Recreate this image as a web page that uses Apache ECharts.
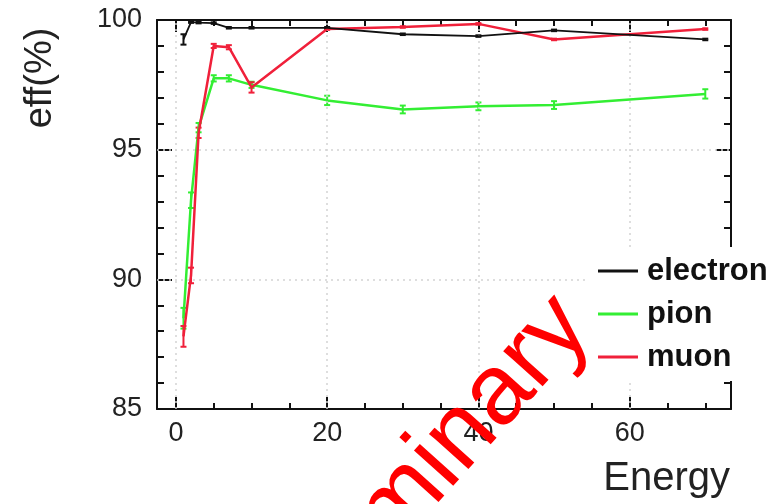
<!DOCTYPE html>
<html>
<head>
<meta charset="utf-8">
<script src="https://cdn.jsdelivr.net/npm/echarts@6/dist/echarts.min.js"></script>
<style>
  html, body { margin: 0; padding: 0; background: #fff; }
  #chart { width: 780px; height: 504px; }
</style>
</head>
<body>
<div id="chart"></div>
<script>
// Beam energies and reconstruction efficiencies (%) per particle type
const energy = [1, 2, 3, 5, 7, 10, 20, 30, 40, 50, 70];
const electronEff = [99.25, 99.92, 99.9, 99.88, 99.7, 99.7, 99.7, 99.45, 99.38, 99.6, 99.25];
const electronErr = [0.2, 0.03, 0.03, 0.03, 0.03, 0.03, 0.03, 0.03, 0.03, 0.03, 0.03];
const pionEff = [88.5, 93.05, 95.85, 97.75, 97.75, 97.5, 96.9, 96.55, 96.67, 96.72, 97.15];
const pionErr = [0.4, 0.3, 0.18, 0.12, 0.12, 0.12, 0.18, 0.15, 0.15, 0.15, 0.18];
const muonEff = [87.8, 90.15, 95.65, 99.0, 98.95, 97.4, 99.65, 99.73, 99.85, 99.25, 99.65];
const muonErr = [0.4, 0.3, 0.2, 0.08, 0.08, 0.2, 0.03, 0.03, 0.03, 0.03, 0.03];

// Axis ticks
const xMajorTicks = [0, 20, 40, 60];
const xMinorTicks = [0, 5, 10, 15, 20, 25, 30, 35, 40, 45, 50, 55, 60, 65, 70];
const yGridValues = [90, 95];

const FONT = "'Liberation Sans', Arial, Helvetica, sans-serif";
const COLORS = { electron: '#111111', pion: '#33ee33', muon: '#f0203a' };

function pairs(xs, ys) { return xs.map((x, i) => [x, ys[i]]); }
function errRows(xs, ys, es) { return xs.map((x, i) => [x, ys[i] - es[i], ys[i] + es[i]]); }

function errorBarSeries(name, rows, color) {
  return {
    type: 'custom',
    name: name + '-err',
    xAxisIndex: 0, yAxisIndex: 0,
    data: rows,
    z: 3,
    renderItem: function (params, api) {
      const x = api.value(0);
      const lo = api.coord([x, api.value(1)]);
      const hi = api.coord([x, api.value(2)]);
      const cap = 3;
      const style = { stroke: color, lineWidth: 2 };
      return {
        type: 'group',
        children: [
          { type: 'line', shape: { x1: lo[0], y1: lo[1], x2: hi[0], y2: hi[1] }, style: style },
          { type: 'line', shape: { x1: lo[0] - cap, y1: lo[1], x2: lo[0] + cap, y2: lo[1] }, style: style },
          { type: 'line', shape: { x1: hi[0] - cap, y1: hi[1], x2: hi[0] + cap, y2: hi[1] }, style: style }
        ]
      };
    }
  };
}

function lineSeries(name, data, color, width, z) {
  return {
    type: 'line',
    name: name,
    xAxisIndex: 0, yAxisIndex: 0,
    data: data,
    symbol: 'none',
    z: z,
    lineStyle: { color: color, width: width },
    itemStyle: { color: color },
    animation: false
  };
}

const xRange = { min: -2.5, max: 73.4 };
const axisLineStyle = { color: '#111', width: 2 };

function xAxisBase(position, showLine) {
  return {
    type: 'value', position: position, min: xRange.min, max: xRange.max,
    axisLine: { show: showLine, lineStyle: axisLineStyle, onZero: false },
    splitLine: { show: false }
  };
}

const option = {
  animation: false,
  backgroundColor: '#fff',
  grid: { left: 157, right: 49, top: 20, bottom: 95, containLabel: false },
  xAxis: [
    Object.assign(xAxisBase('bottom', true), {
      axisTick: { inside: true, length: 12, customValues: xMajorTicks, lineStyle: { color: '#111', width: 2 } },
      axisLabel: { customValues: xMajorTicks, margin: 11, fontSize: 27, color: '#222', fontFamily: FONT }
    }),
    Object.assign(xAxisBase('bottom', false), {
      axisTick: { inside: true, length: 6, customValues: xMinorTicks, lineStyle: { color: '#111', width: 2 } },
      axisLabel: { show: false }
    }),
    Object.assign(xAxisBase('top', true), {
      axisTick: { inside: true, length: 12, customValues: xMajorTicks, lineStyle: { color: '#111', width: 2 } },
      axisLabel: { show: false }
    }),
    Object.assign(xAxisBase('top', false), {
      axisTick: { inside: true, length: 6, customValues: xMinorTicks, lineStyle: { color: '#111', width: 2 } },
      axisLabel: { show: false }
    })
  ],
  yAxis: [
    {
      type: 'value', position: 'left', min: 85, max: 100, interval: 5,
      axisLine: { show: true, lineStyle: axisLineStyle, onZero: false },
      axisTick: { inside: true, length: 15, lineStyle: { color: '#111', width: 2 } },
      minorTick: { show: true, splitNumber: 5, length: 7, lineStyle: { color: '#111', width: 2 } },
      axisLabel: { margin: 15, fontSize: 27, color: '#222', fontFamily: FONT },
      splitLine: { show: false }
    },
    {
      type: 'value', position: 'right', min: 85, max: 100, interval: 5,
      axisLine: { show: true, lineStyle: axisLineStyle, onZero: false },
      axisTick: { inside: true, length: 15, lineStyle: { color: '#111', width: 2 } },
      minorTick: { show: true, splitNumber: 5, length: 7, lineStyle: { color: '#111', width: 2 } },
      axisLabel: { show: false },
      splitLine: { show: false }
    }
  ],
  legend: {
    data: ['electron', 'pion', 'muon'],
    orient: 'vertical',
    left: 585,
    top: 247,
    padding: [8, 20, 8, 13],
    itemGap: 11,
    itemWidth: 40,
    itemHeight: 3,
    icon: 'rect',
    backgroundColor: '#fff',
    textStyle: { fontSize: 31, fontWeight: 'bold', color: '#111', fontFamily: FONT, lineHeight: 32, padding: [0, 0, 0, 4] },
    z: 20
  },
  series: [
    // dotted grid at the major ticks
    {
      type: 'line', name: 'grid', data: [], xAxisIndex: 0, yAxisIndex: 0, z: 1,
      markLine: {
        silent: true, symbol: 'none', label: { show: false },
        lineStyle: { type: [2, 4], color: '#d4d4d4', width: 1.5 },
        data: xMajorTicks.map(v => ({ xAxis: v })).concat(yGridValues.map(v => ({ yAxis: v })))
      }
    },
    lineSeries('pion', pairs(energy, pionEff), COLORS.pion, 2.5, 4),
    lineSeries('muon', pairs(energy, muonEff), COLORS.muon, 2.5, 5),
    lineSeries('electron', pairs(energy, electronEff), COLORS.electron, 1.8, 6),
    errorBarSeries('pion', errRows(energy, pionEff, pionErr), COLORS.pion),
    errorBarSeries('muon', errRows(energy, muonEff, muonErr), COLORS.muon),
    errorBarSeries('electron', errRows(energy, electronEff, electronErr), COLORS.electron)
  ],
  graphic: [
    {
      type: 'text', x: 41, y: 78, rotation: Math.PI / 2,
      style: { text: 'eff(%)', fontSize: 38, fontFamily: FONT, fill: '#222', align: 'center', verticalAlign: 'middle' }
    },
    {
      type: 'text', x: 730, y: 479,
      style: { text: 'Energy', fontSize: 40, fontFamily: FONT, fill: '#222', align: 'right', verticalAlign: 'middle' }
    },
    {
      type: 'text', x: 406, y: 497, rotation: 48 * Math.PI / 180, z: 100,
      style: { text: 'Preliminary', fontSize: 100, fontFamily: FONT, fill: '#ff0000', align: 'center', verticalAlign: 'middle' }
    }
  ]
};

const chart = echarts.init(document.getElementById('chart'), null, { renderer: 'canvas' });
chart.setOption(option);
</script>
</body>
</html>
